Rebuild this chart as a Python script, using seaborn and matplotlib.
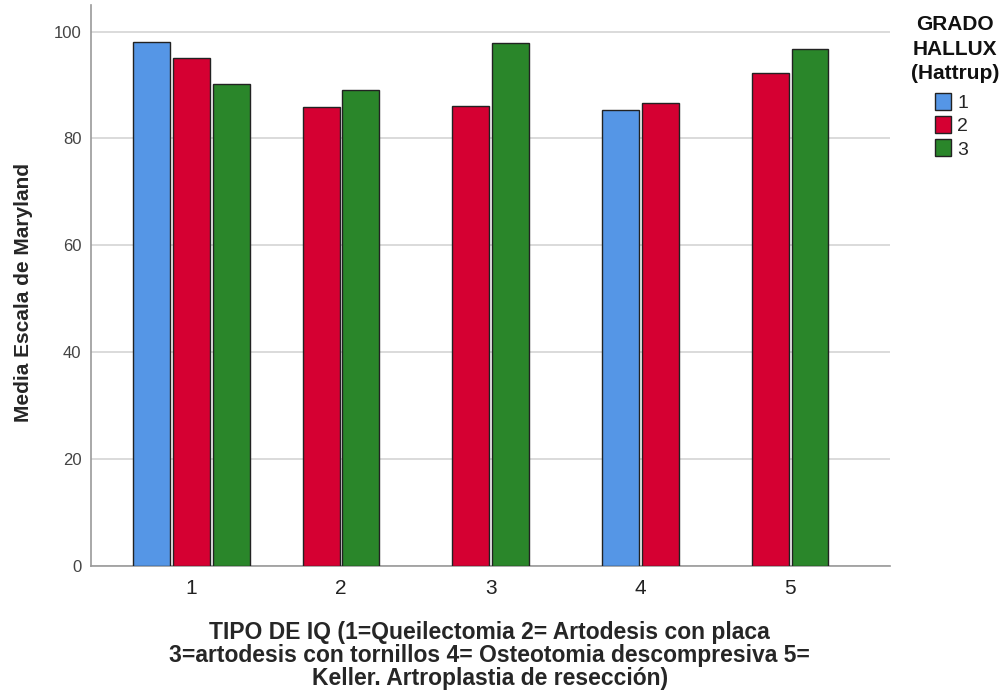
import matplotlib
matplotlib.use("Agg")
import matplotlib.pyplot as plt
import matplotlib.patches as mpatches
import seaborn as sns
import pandas as pd
import numpy as np

# values
tipo = [1, 1, 1, 2, 2, 3, 3, 4, 4, 5, 5]
grado = ['1', '2', '3', '2', '3', '2', '3', '1', '2', '2', '3']
media = [98.1, 95.1, 90.1, 85.8, 89.0, 86.0, 97.9, 85.4, 86.7, 92.2, 96.7]
grado_levels = ['1', '2', '3']
tipo_labels = ['1', '2', '3', '4', '5']
y_ticks = [0, 20, 40, 60, 80, 100]
colores = ['#5596E6', '#D50032', '#2A862A']

df = pd.DataFrame({'tipo': tipo, 'grado': grado, 'media': media})

# SPSS style: bars of a group are packed together (missing hue levels leave no gap)
step = 0.8 / 3
pos = []
for t, g in zip(df['tipo'], df['grado']):
    present = [gg for tt, gg in zip(df['tipo'], df['grado']) if tt == t]
    n = len(present)
    j = present.index(g)
    pos.append(t + (j - (n - 1) / 2) * step)
df['pos'] = np.round(pos, 4)

sns.set_style('white')
plt.rcParams['font.family'] = ['Liberation Sans', 'DejaVu Sans']

fig = plt.figure(figsize=(10.06, 6.92), dpi=100)
ax = fig.add_axes([0.0905, 0.182, 0.7945, 0.811])

sns.barplot(data=df, x='pos', y='media', hue='grado', hue_order=grado_levels,
            palette=colores, saturation=1, native_scale=True, dodge=False,
            width=0.925, edgecolor='#222222', linewidth=1, legend=False,
            ax=ax, zorder=3)

ax.set_xlim(0.33, 5.67)
ax.set_ylim(0, 105)
ax.set_xticks([1, 2, 3, 4, 5])
ax.set_xticklabels(tipo_labels, fontsize=15, color='#222222')
ax.set_yticks(y_ticks)
ax.set_yticklabels([str(v) for v in y_ticks], fontsize=12, color='#444444')
ax.tick_params(axis='x', length=0, pad=9)
ax.tick_params(axis='y', length=0, pad=7)
ax.yaxis.grid(True, color='#d4d4d4', linewidth=1.2, zorder=0)
ax.set_axisbelow(True)
for s in ['top', 'right']:
    ax.spines[s].set_visible(False)
for s in ['left', 'bottom']:
    ax.spines[s].set_color('#999999')
    ax.spines[s].set_linewidth(1.2)

ax.set_ylabel('Media Escala de Maryland', fontsize=15, fontweight='bold')
ax.yaxis.set_label_coords(-0.072, 0.488)
ax.set_xlabel('TIPO DE IQ (1=Queilectomia 2= Artodesis con placa\n'
              '3=artodesis con tornillos 4= Osteotomia descompresiva 5=\n'
              'Keller. Artroplastia de resección)',
              fontsize=16.5, fontweight='bold', linespacing=1.0)
ax.xaxis.set_label_coords(0.4987, -0.098)

fig.text(0.949, 1 - 15 / 692, 'GRADO\nHALLUX\n(Hattrup)', ha='center', va='top',
         fontsize=15, fontweight='bold', linespacing=1.38, color='#111111')
handles = [mpatches.Patch(facecolor=c, edgecolor='#222222', label=l)
           for c, l in zip(colores, grado_levels)]
leg = fig.legend(handles=handles, loc='upper left',
                 bbox_to_anchor=(927 / 1006, 1 - 85 / 692), frameon=False,
                 fontsize=14, handlelength=0.85, handleheight=0.95,
                 handletextpad=0.3, labelspacing=0.22, borderaxespad=0)

fig.savefig('out.png', dpi=100)
